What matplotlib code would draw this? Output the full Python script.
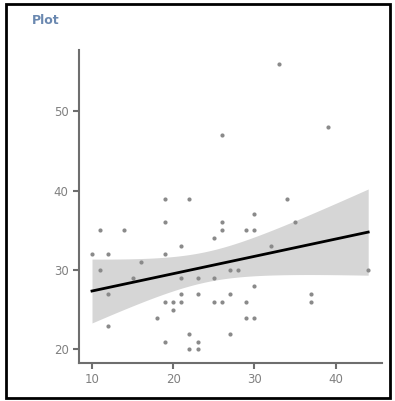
import numpy as np
import matplotlib
matplotlib.use("Agg")
import matplotlib.pyplot as plt
from matplotlib.patches import Rectangle

x_vals = [33, 26, 39, 19, 22, 34, 19, 26, 35, 11, 14, 26, 29, 30, 30, 25, 21, 32,
          10, 12, 19, 16, 11, 27, 28, 44, 15, 21, 23, 25, 30, 12, 21, 23, 27, 37,
          19, 20, 21, 25, 26, 29, 37, 20, 18, 29, 30, 12, 22, 27, 19, 23, 22, 23]
y_vals = [56, 47, 48, 39, 39, 39, 36, 36, 36, 35, 35, 35, 35, 35, 37, 34, 33, 33,
          32, 32, 32, 31, 30, 30, 30, 30, 29, 29, 29, 29, 28, 27, 27, 27, 27, 27,
          26, 26, 26, 26, 26, 26, 26, 25, 24, 24, 24, 23, 22, 22, 21, 21, 20, 20]
x_ticks = [10, 20, 30, 40]
y_ticks = [20, 30, 40, 50]
title = "Plot"

x = np.array(x_vals, dtype=float)
y = np.array(y_vals, dtype=float)

fig = plt.figure(figsize=(3.95, 4.01), dpi=100)
ax = fig.add_axes([79/395, 1-363/401, (382-79)/395, (363-50)/401])

# regression with 95% CI
n = len(x)
b, a = np.polyfit(x, y, 1)
xs = np.linspace(x.min(), x.max(), 100)
ys = a + b*xs
resid = y - (a + b*x)
s = np.sqrt(np.sum(resid**2)/(n-2))
t = 2.007
se = s*np.sqrt(1/n + (xs-x.mean())**2/np.sum((x-x.mean())**2))
ax.fill_between(xs, ys-t*se, ys+t*se, color="#d6d6d6", lw=0, zorder=1)
ax.scatter(x, y, s=9, color="#8a8a8a", zorder=2, linewidths=0)
ax.plot(xs, ys, color="black", lw=2, zorder=3)

ax.set_xlim(8.4, 45.7)
ax.set_ylim(18.3, 57.7)
ax.set_xticks(x_ticks)
ax.set_yticks(y_ticks)
for sp in ["top", "right"]:
    ax.spines[sp].set_visible(False)
for sp in ["left", "bottom"]:
    ax.spines[sp].set_color("#6e6e6e")
    ax.spines[sp].set_linewidth(1.5)
ax.tick_params(colors="#6e6e6e", labelcolor="#808080", labelsize=8.5,
               length=4, width=1.5)

fig.text(32/395, 1-20/401, title, color="#6a88b0", fontsize=9,
         fontweight="bold", va="center", ha="left")

fig.patches.append(Rectangle((6/395, 3/401), 384/395, 394/401,
                             transform=fig.transFigure, fill=False,
                             edgecolor="black", lw=2))

fig.savefig("out.png", dpi=100)
